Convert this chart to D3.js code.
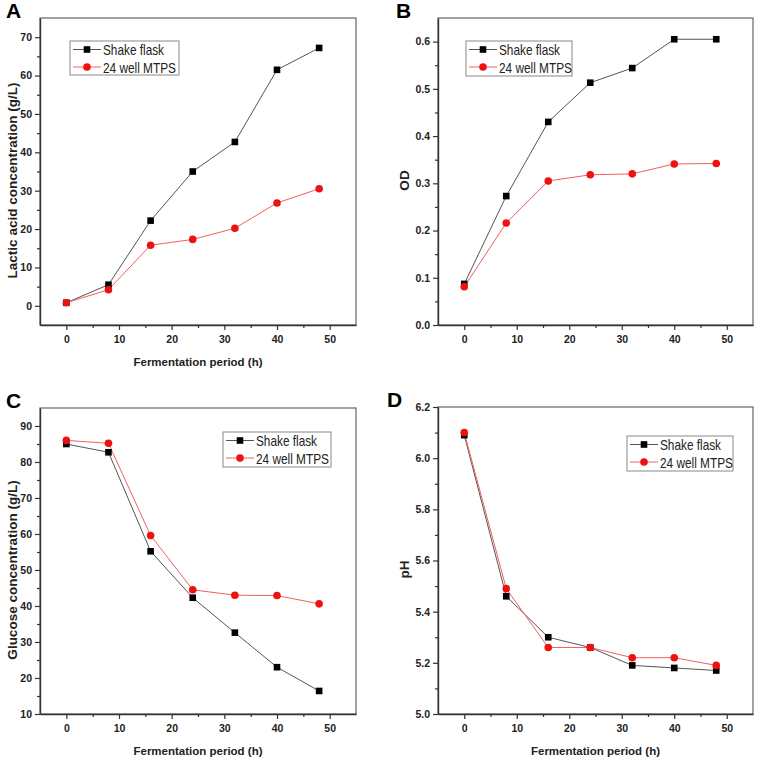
<!DOCTYPE html>
<html>
<head>
<meta charset="utf-8">
<script src="https://cdn.jsdelivr.net/npm/d3@7"></script>
<style>
  body { margin: 0; background: #fff; }
  svg { font-family: "Liberation Sans", Arial, sans-serif; }
  .tick text { font-size: 10.5px; font-weight: bold; fill: #222; }
</style>
</head>
<body>
<div id="chart"></div>
<script>
// sampling times (h)
const hours = [0, 8, 16, 24, 32, 40, 48];

// A - lactic acid (g/L)
const lacticShake = [0.8, 5.5, 22.2, 35.0, 42.7, 61.5, 67.2];
const lacticMtps  = [0.8, 4.2, 15.8, 17.3, 20.2, 26.8, 30.5];
// B - OD
const odShake = [0.087, 0.273, 0.430, 0.513, 0.544, 0.605, 0.605];
const odMtps  = [0.081, 0.216, 0.305, 0.318, 0.320, 0.341, 0.342];
// C - glucose (g/L)
const glucoseShake = [85.0, 82.7, 55.2, 42.3, 32.6, 23.0, 16.4];
const glucoseMtps  = [86.0, 85.2, 59.6, 44.5, 43.0, 42.9, 40.6];
// D - pH
const phShake = [6.09, 5.46, 5.30, 5.26, 5.19, 5.18, 5.17];
const phMtps  = [6.10, 5.49, 5.26, 5.26, 5.22, 5.22, 5.19];

const xTicks = [0, 10, 20, 30, 40, 50];
const lacticTicks = [0, 10, 20, 30, 40, 50, 60, 70];
const odTicks = [0.0, 0.1, 0.2, 0.3, 0.4, 0.5, 0.6];
const glucoseTicks = [10, 20, 30, 40, 50, 60, 70, 80, 90];
const phTicks = [5.0, 5.2, 5.4, 5.6, 5.8, 6.0, 6.2];

const seriesNames = ["Shake flask", "24 well MTPS"];

const panels = [
  { letter: "A", lx: 6, left: 40, right: 356, top: 18, bottom: 325, ydom: [-5, 75],
    yticks: lacticTicks, yfmt: d3.format("d"), shake: lacticShake, mtps: lacticMtps,
    ytitle: "Lactic acid concentration (g/L)", tx: 17, xtitle: true, leg: [70, 41, 109, 34] },
  { letter: "B", lx: 396, left: 438, right: 753, top: 18, bottom: 325, ydom: [0, 0.65],
    yticks: odTicks, yfmt: d3.format(".1f"), shake: odShake, mtps: odMtps,
    ytitle: "OD", tx: 409, xtitle: false, leg: [466, 41, 106, 35] },
  { letter: "C", lx: 6, left: 40, right: 356, top: 408, bottom: 714, ydom: [10, 95],
    yticks: glucoseTicks, yfmt: d3.format("d"), shake: glucoseShake, mtps: glucoseMtps,
    ytitle: "Glucose concentration (g/L)", tx: 17, xtitle: true, leg: [223, 432, 108, 35] },
  { letter: "D", lx: 387, left: 438, right: 753, top: 407, bottom: 714, ydom: [5.0, 6.2],
    yticks: phTicks, yfmt: d3.format(".1f"), shake: phShake, mtps: phMtps,
    ytitle: "pH", tx: 409, xtitle: true, leg: [627, 436, 106, 35] }
];

const svg = d3.select("#chart").append("svg")
  .attr("width", 760).attr("height", 763);

panels.forEach(p => {
  const g = svg.append("g");
  const x = d3.scaleLinear().domain([-5, 55]).range([p.left, p.right]);
  const y = d3.scaleLinear().domain(p.ydom).range([p.bottom, p.top]);

  // frame
  g.append("rect")
    .attr("x", p.left).attr("y", p.top)
    .attr("width", p.right - p.left).attr("height", p.bottom - p.top)
    .attr("fill", "none").attr("stroke", "#666").attr("stroke-width", 1.2);

  // minor ticks
  const xMinor = d3.range(5, 55, 10);
  const ystep = p.yticks[1] - p.yticks[0];
  const yMinor = p.yticks.map(t => t + ystep / 2).filter(t => t < p.ydom[1]);

  g.append("g")
    .attr("transform", "translate(0," + p.bottom + ")")
    .call(d3.axisBottom(x).tickValues(xMinor).tickSize(3).tickFormat(""))
    .call(a => a.select(".domain").remove());
  g.append("g")
    .attr("transform", "translate(" + p.left + ",0)")
    .call(d3.axisLeft(y).tickValues(yMinor).tickSize(3).tickFormat(""))
    .call(a => a.select(".domain").remove());

  const xa = g.append("g")
    .attr("transform", "translate(0," + p.bottom + ")")
    .call(d3.axisBottom(x).tickValues(xTicks).tickSize(5).tickPadding(6).tickSizeOuter(0));
  const ya = g.append("g")
    .attr("transform", "translate(" + p.left + ",0)")
    .call(d3.axisLeft(y).tickValues(p.yticks).tickFormat(p.yfmt).tickSize(5).tickPadding(3).tickSizeOuter(0));
  [xa, ya].forEach(a => {
    a.select(".domain").attr("stroke", "#333").attr("stroke-width", 1.4);
  });
  svg.selectAll(".tick line").attr("stroke", "#333").attr("stroke-width", 1.2);

  // titles
  g.append("text")
    .attr("x", p.lx).attr("y", p.top)
    .attr("font-size", 21).attr("font-weight", "bold")
    .text(p.letter);

  if (p.xtitle) {
    g.append("text")
      .attr("x", (p.left + p.right) / 2).attr("y", p.bottom + 41)
      .attr("text-anchor", "middle").attr("font-size", 11.5).attr("font-weight", "bold")
      .attr("fill", "#222")
      .text("Fermentation period (h)");
  }
  const yc = (p.top + p.bottom) / 2 + 9;
  g.append("text")
    .attr("transform", "translate(" + p.tx + "," + yc + ") rotate(-90)")
    .attr("text-anchor", "middle").attr("font-size", 13.5).attr("font-weight", "bold")
    .attr("fill", "#222")
    .text(p.ytitle);

  // series
  const line = d3.line().x((d, i) => x(hours[i])).y(d => y(d));
  g.append("path").datum(p.shake).attr("d", line)
    .attr("fill", "none").attr("stroke", "#555").attr("stroke-width", 1);
  g.append("path").datum(p.mtps).attr("d", line)
    .attr("fill", "none").attr("stroke", "#f06060").attr("stroke-width", 1);

  g.selectAll(".sq").data(p.shake).enter().append("rect")
    .attr("x", (d, i) => x(hours[i]) - 3.3).attr("y", d => y(d) - 3.3)
    .attr("width", 6.6).attr("height", 6.6).attr("fill", "#000");
  g.selectAll(".ci").data(p.mtps).enter().append("circle")
    .attr("cx", (d, i) => x(hours[i])).attr("cy", d => y(d))
    .attr("r", 3.8).attr("fill", "#ee1111");

  // legend
  const [lx, ly, lw, lh] = p.leg;
  const lg = g.append("g").attr("transform", "translate(" + lx + "," + ly + ")");
  lg.append("rect").attr("width", lw).attr("height", lh)
    .attr("fill", "#fff").attr("stroke", "#888").attr("stroke-width", 1);
  seriesNames.forEach((name, i) => {
    const cy = 8.5 + i * 17.5;
    lg.append("line").attr("x1", 3).attr("x2", 31).attr("y1", cy).attr("y2", cy)
      .attr("stroke", i === 0 ? "#555" : "#f06060").attr("stroke-width", 1);
    if (i === 0) {
      lg.append("rect").attr("x", 13.7).attr("y", cy - 3.3).attr("width", 6.6).attr("height", 6.6).attr("fill", "#000");
    } else {
      lg.append("circle").attr("cx", 17).attr("cy", cy).attr("r", 3.8).attr("fill", "#ee1111");
    }
    lg.append("text").attr("x", 33).attr("y", cy + 5.5)
      .attr("font-size", 14.5).attr("fill", "#222")
      .attr("textLength", i === 0 ? 61 : 73).attr("lengthAdjust", "spacingAndGlyphs")
      .text(name);
  });
});
</script>
</body>
</html>
